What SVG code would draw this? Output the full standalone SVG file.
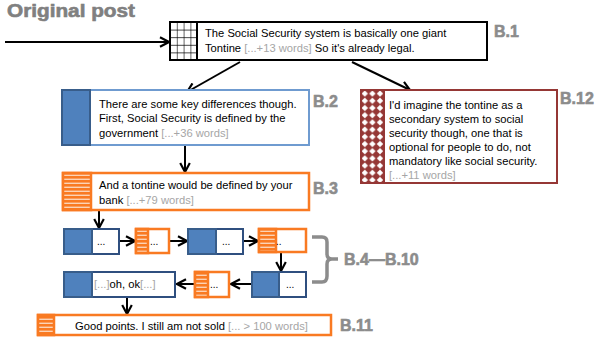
<svg xmlns="http://www.w3.org/2000/svg" width="609" height="337" viewBox="0 0 609 337">
  <defs>
    <!-- open chevron arrowhead -->
    <marker id="arr" viewBox="0 0 10 10" refX="8.5" refY="5" markerWidth="6" markerHeight="6" orient="auto" markerUnits="strokeWidth">
      <path d="M1,1 L8.5,5 L1,9" fill="none" stroke="#000" stroke-width="1.8"/>
    </marker>
    <!-- grid fill for the original post -->
    <pattern id="grid" width="6.8" height="7.6" patternUnits="userSpaceOnUse" x="170" y="22">
      <rect width="6.8" height="7.6" fill="#fff"/>
      <path d="M0,0 H6.8 M0,0 V7.6" stroke="#000" stroke-width="1.2"/>
    </pattern>
    <!-- horizontal stripes for orange replies -->
    <pattern id="stripes" width="6" height="4" patternUnits="userSpaceOnUse">
      <rect width="6" height="4" fill="#F97A22"/>
      <rect y="2.6" width="6" height="1.4" fill="#FCD3B5"/>
    </pattern>
    <!-- diamond fill for the dark red reply -->
    <pattern id="diamonds" width="7.6" height="7.2" patternUnits="userSpaceOnUse" x="361" y="90">
      <rect width="7.6" height="7.2" fill="#953735"/>
      <path d="M3.8,0.4 L7,3.6 L3.8,6.8 L0.6,3.6 Z" fill="#fff"/>
    </pattern>
  </defs>
  <style>
    .title { font-family: "Liberation Sans", Arial, sans-serif; font-weight: bold; fill: #808080; stroke: #808080; stroke-width: 0.6; }
    .lbl { font-family: "Liberation Sans", Arial, sans-serif; font-weight: bold; font-size: 16px; fill: #8C8C8C; stroke: #8C8C8C; stroke-width: 0.6; }
    .t { font-family: "Liberation Sans", Arial, sans-serif; font-size: 11.2px; fill: #000; }
    .g { fill: #A6A6A6; }
    .dots { font-family: "Liberation Sans", Arial, sans-serif; font-size: 10px; fill: #000; }
    .box { fill: #fff; }
    .blueBox { fill: #fff; stroke: #6F9BD0; stroke-width: 2; }
    .blueFill { fill: #4F81BD; stroke: #385D8A; stroke-width: 2; }
    .blueSmall { fill: #fff; stroke: #2F4F7F; stroke-width: 2; }
    .orange { stroke: #F97A22; stroke-width: 2.5; }
    .conn { fill: none; stroke: #000; stroke-width: 2; marker-end: url(#arr); }
    .brace { fill: none; stroke: #8C8C8C; stroke-width: 3.5; }
  </style>

  <text class="title" x="7" y="17" font-size="18" textLength="128" lengthAdjust="spacingAndGlyphs">Original post</text>

  <!-- connectors -->
  <g id="connectors">
    <path class="conn" d="M5,42 H169"/>
    <path class="conn" d="M240,62 L187,92"/>
    <path class="conn" d="M352,62 L410,90"/>
    <path class="conn" d="M185,146 V172"/>
    <path class="conn" d="M99,211 V228"/>
    <path class="conn" d="M120,241 H135"/>
    <path class="conn" d="M170,241 H187"/>
    <path class="conn" d="M244,241 H258"/>
    <path class="conn" d="M281,253 V271"/>
    <path class="conn" d="M251,284 H231"/>
    <path class="conn" d="M194,284 H177"/>
    <path class="conn" d="M127,298 V314"/>
  </g>

  <!-- B.1 original post -->
  <g id="B1">
    <rect x="170" y="22" width="317" height="38" fill="#fff" stroke="#000" stroke-width="2"/>
    <rect x="170" y="22" width="27" height="38" fill="url(#grid)" stroke="#000" stroke-width="2"/>
    <text class="t" x="205" y="37" font-size="10.8">The Social Security system is basically one giant</text>
    <text class="t" x="205" y="52" font-size="10.8">Tontine <tspan class="g">[...+13 words]</tspan>  So it's already legal.</text>
    <text class="lbl" x="494" y="37">B.1</text>
  </g>

  <!-- B.2 -->
  <g id="B2">
    <rect class="blueBox" x="62" y="90" width="247" height="55"/>
    <rect class="blueFill" x="62" y="90" width="28" height="55"/>
    <text class="t" x="99" y="108">There are some key differences though.</text>
    <text class="t" x="99" y="122">First, Social Security is defined by the</text>
    <text class="t" x="99" y="137">government  <tspan class="g">[...+36 words]</tspan></text>
    <text class="lbl" x="313" y="107">B.2</text>
  </g>

  <!-- B.3 -->
  <g id="B3">
    <rect class="box orange" x="63" y="173" width="246" height="37"/>
    <rect class="orange" x="63" y="173" width="28" height="37" fill="url(#stripes)"/>
    <text class="t" x="99" y="189">And a tontine would be defined by your</text>
    <text class="t" x="99" y="204">bank <tspan class="g">[...+79 words]</tspan></text>
    <text class="lbl" x="313" y="194">B.3</text>
  </g>

  <!-- B.4 - B.10 chain -->
  <g id="B4">
    <rect class="blueSmall" x="64" y="229" width="55" height="25"/>
    <rect class="blueFill" x="64" y="229" width="28" height="25" stroke="#2F4F7F"/>
    <text class="dots" x="97" y="245">...</text>
  </g>
  <g id="B5">
    <rect class="box orange" x="136" y="229" width="33" height="24"/>
    <rect class="orange" x="136" y="229" width="12" height="24" fill="url(#stripes)"/>
    <text class="dots" x="150" y="245">...</text>
  </g>
  <g id="B6">
    <rect class="blueSmall" x="188" y="229" width="55" height="25"/>
    <rect class="blueFill" x="188" y="229" width="28" height="25" stroke="#2F4F7F"/>
    <text class="dots" x="222" y="245">...</text>
  </g>
  <g id="B7">
    <rect class="box orange" x="259" y="229" width="47" height="23"/>
    <rect class="orange" x="259" y="229" width="17" height="23" fill="url(#stripes)"/>
    <text class="dots" x="276" y="245">..</text>
  </g>
  <g id="B8">
    <rect class="blueSmall" x="252" y="272" width="54" height="25"/>
    <rect class="blueFill" x="252" y="272" width="27" height="25" stroke="#2F4F7F"/>
    <text class="dots" x="286" y="288">...</text>
  </g>
  <g id="B9">
    <rect class="box orange" x="195" y="272" width="34" height="25"/>
    <rect class="orange" x="195" y="272" width="13" height="25" fill="url(#stripes)"/>
    <text class="dots" x="210" y="288">...</text>
  </g>
  <g id="B10">
    <rect class="blueSmall" x="64" y="272" width="111" height="25"/>
    <rect class="blueFill" x="64" y="272" width="28" height="25" stroke="#2F4F7F"/>
    <text class="t" x="94" y="288" font-size="10.8"><tspan class="g">[...]</tspan>oh, ok<tspan class="g">[...]</tspan></text>
  </g>

  <!-- brace grouping B.4 to B.10 -->
  <g id="B4-B10">
    <path class="brace" d="M312,237 H322 Q327,237 327,242 V254 Q327,259 332,259 H338 M332,259 Q327,259 327,264 V276 Q327,282 322,282 H312"/>
    <text class="lbl" x="344" y="265">B.4—B.10</text>
  </g>

  <!-- B.11 -->
  <g id="B11">
    <rect class="box orange" x="38" y="315" width="293" height="20"/>
    <rect class="orange" x="38" y="315" width="16" height="20" fill="url(#stripes)"/>
    <text class="t" x="75" y="330">Good points. I still am not sold <tspan class="g">[... &gt; 100 words]</tspan></text>
    <text class="lbl" x="340" y="331">B.11</text>
  </g>

  <!-- B.12 -->
  <g id="B12">
    <rect x="361" y="90" width="196" height="93" fill="#fff" stroke="#953735" stroke-width="2"/>
    <rect x="361" y="90" width="23" height="93" fill="url(#diamonds)" stroke="#953735" stroke-width="2"/>
    <text class="t" x="389" y="109">I'd imagine the tontine as a</text>
    <text class="t" x="389" y="123">secondary  system to social</text>
    <text class="t" x="389" y="137">security though, one that is</text>
    <text class="t" x="389" y="151">optional for people to do, not</text>
    <text class="t" x="389" y="165">mandatory like social security.</text>
    <text class="t g" x="389" y="179">[...+11  words]</text>
    <text class="lbl" x="560" y="104">B.12</text>
  </g>
</svg>
